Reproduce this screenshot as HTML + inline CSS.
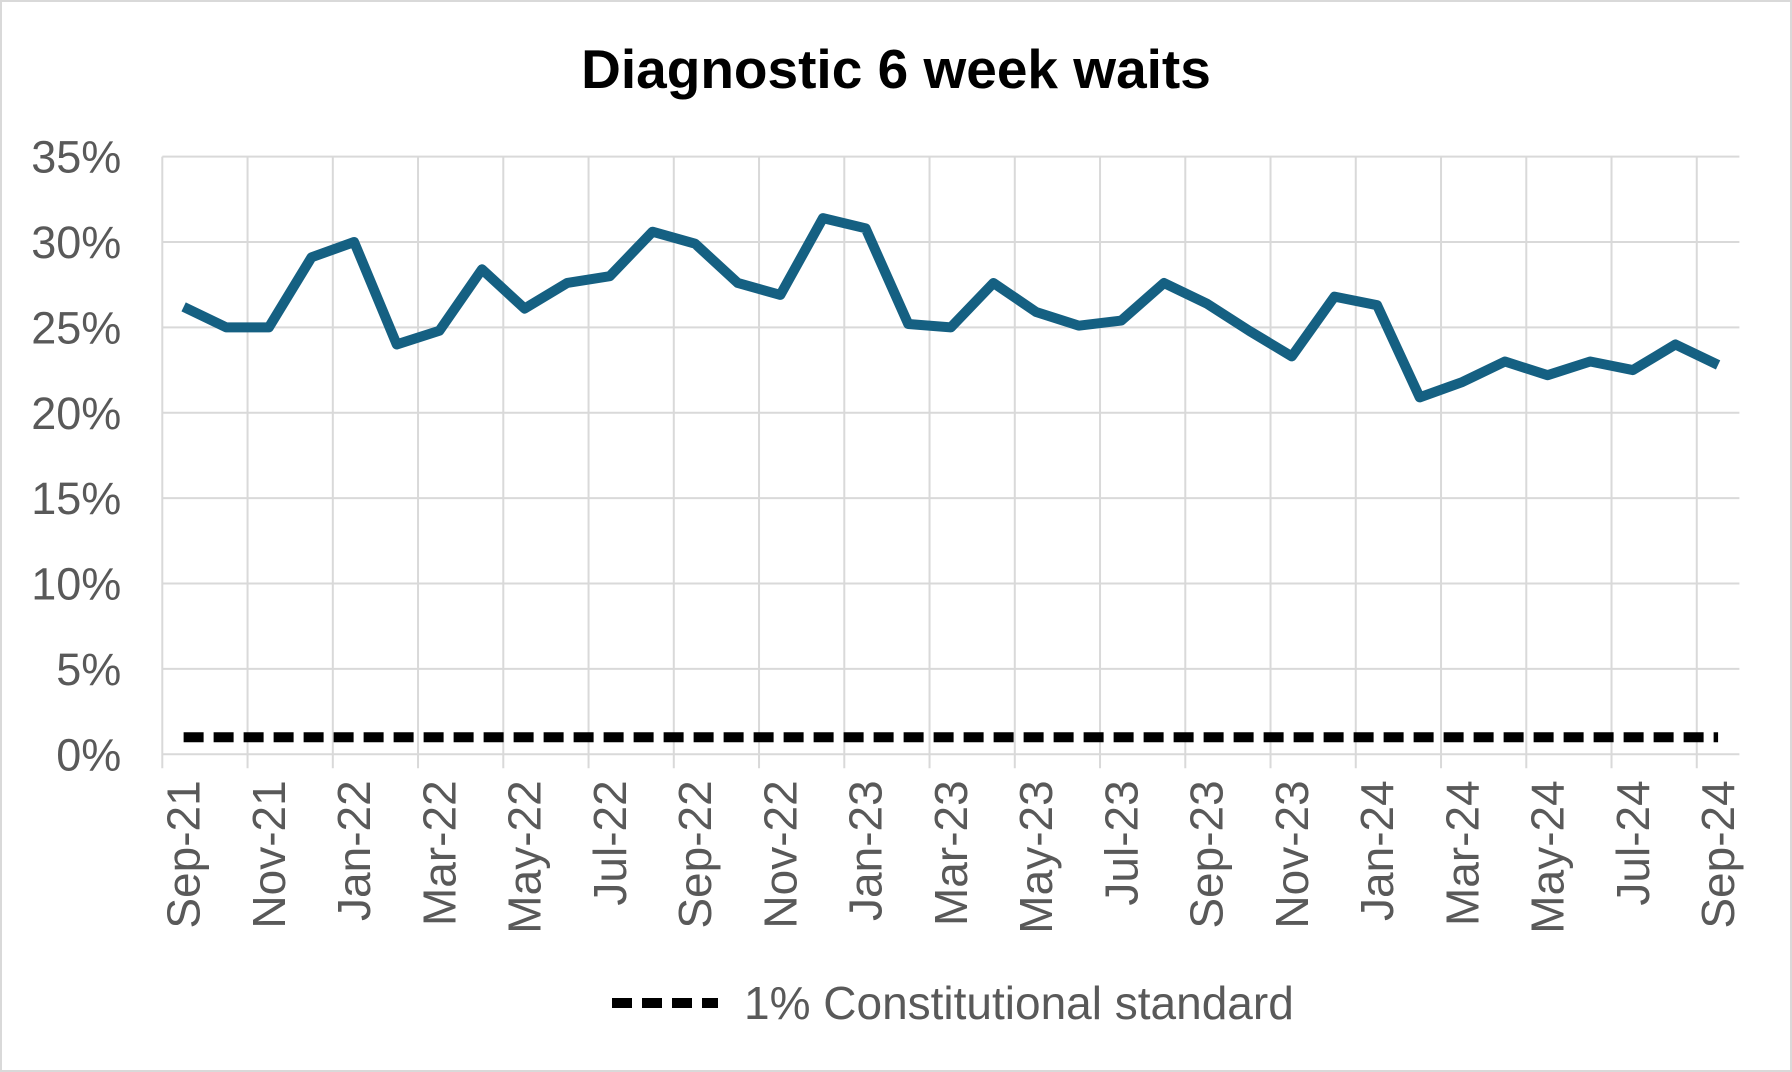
<!DOCTYPE html>
<html><head><meta charset="utf-8"><style>
body{margin:0;background:#fff}
svg{display:block;font-family:"Liberation Sans",Arial,sans-serif}
</style></head><body>
<svg id="chart" width="1792" height="1072" viewBox="0 0 1792 1072">
<rect x="1" y="1" width="1790" height="1070" fill="#fff" stroke="#d9d9d9" stroke-width="2"/>
<text x="896" y="88" text-anchor="middle" font-size="55" font-weight="bold" fill="#000">Diagnostic 6 week waits</text>
<g id="grid"></g><g id="yaxis"></g><g id="xaxis"></g><g id="series"></g>
<g>
<line x1="612" y1="1003" x2="718" y2="1003" stroke="#000" stroke-width="10" stroke-dasharray="20,10"/>
<text x="744" y="1019" font-size="46" fill="#595959">1% Constitutional standard</text>
</g>
</svg>
<script>
const months=["Sep-21","Oct-21","Nov-21","Dec-21","Jan-22","Feb-22","Mar-22","Apr-22","May-22","Jun-22","Jul-22","Aug-22","Sep-22","Oct-22","Nov-22","Dec-22","Jan-23","Feb-23","Mar-23","Apr-23","May-23","Jun-23","Jul-23","Aug-23","Sep-23","Oct-23","Nov-23","Dec-23","Jan-24","Feb-24","Mar-24","Apr-24","May-24","Jun-24","Jul-24","Aug-24","Sep-24"];
const waits=[26.2,25.0,25.0,29.1,30.0,24.0,24.8,28.4,26.1,27.6,28.0,30.6,29.9,27.6,26.9,31.4,30.8,25.2,25.0,27.6,25.9,25.1,25.4,27.6,26.4,24.8,23.3,26.8,26.3,20.9,21.8,23.0,22.2,23.0,22.5,24.0,22.8];
const standard=[1];
const yTicks=[0,5,10,15,20,25,30,35];
const NS="http://www.w3.org/2000/svg";
const L=162.3,R=1739.4,B=754.3,T=156.6;
const bw=(R-L)/months.length;
const xC=i=>L+bw*(i+0.5);
const y=v=>B-(v/35)*(B-T);
function mk(t,a,p){const e=document.createElementNS(NS,t);for(const k in a)e.setAttribute(k,a[k]);p.appendChild(e);return e;}
const grid=document.getElementById('grid'),ya=document.getElementById('yaxis'),xa=document.getElementById('xaxis'),se=document.getElementById('series');
yTicks.forEach(v=>{
 const g=mk('line',{x1:L,x2:R,y1:y(v),y2:y(v),stroke:'#d9d9d9','stroke-width':2},grid);
 
 
 const t=mk('text',{x:L-41,y:y(v)+16,'text-anchor':'end','font-size':45,fill:'#595959'},ya);
 t.textContent=v+'%';
 
 
});
for(let i=0;i<=months.length;i+=2){
 const g=mk('line',{x1:L+bw*i,x2:L+bw*i,y1:T,y2:B+14,stroke:'#d9d9d9','stroke-width':2},grid);
 
 
}
months.forEach((m,i)=>{
 if(i%2)return;
 const x=xC(i)+16,yy=B+26;
 const t=mk('text',{x:x,y:yy,'text-anchor':'end','font-size':46,fill:'#595959',transform:`rotate(-90 ${x} ${yy})`},xa);
 t.textContent=m;
 
 
});
const sl=mk('line',{x1:xC(0),x2:xC(months.length-1),y1:y(standard[0]),y2:y(standard[0]),stroke:'#000','stroke-width':10,'stroke-dasharray':'20,10'},se);


const pl=mk('polyline',{points:waits.map((v,i)=>xC(i)+','+y(v)).join(' '),fill:'none',stroke:'#156082','stroke-width':10,'stroke-linejoin':'round'},se);


</script>
</body></html>
